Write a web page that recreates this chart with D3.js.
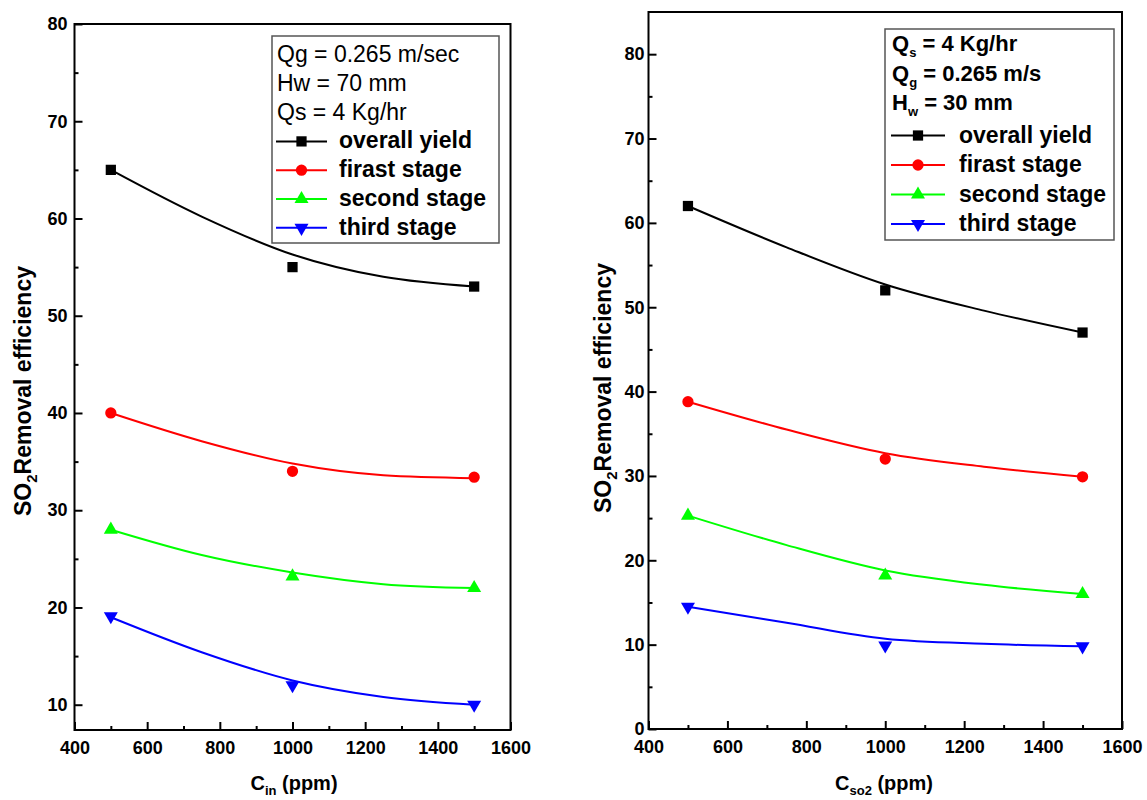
<!DOCTYPE html>
<html>
<head>
<meta charset="utf-8">
<script src="https://cdn.jsdelivr.net/npm/d3@7"></script>
<style>
  body { margin: 0; background: #fff; }
  svg { display: block; font-family: "Liberation Sans", Arial, sans-serif; }
  .tick text { font-weight: bold; font-size: 18px; fill: #000; }
  .tick line { stroke: #000; stroke-width: 2; }
</style>
</head>
<body>
<div id="chart"></div>
<script>
// measured points
const xValues = [500, 1000, 1500]
// x positions used for the fitted curves
const fitX = [500, 750, 1000, 1250, 1500]

const seriesNames = ["overall yield", "firast stage", "second stage", "third stage"]
const seriesColors = ["#000000", "#ff0000", "#00ff00", "#0000ff"]

// left panel : C_in
const leftOverall = [65, 55, 53]
const leftFirst = [40, 34, 33.4]
const leftSecond = [28, 23.2, 22]
const leftThird = [19.1, 12, 10]
const leftOverallFit = [65, 60.2, 56.3, 54.0, 53.0]
const leftFirstFit = [40, 37.1, 34.8, 33.6, 33.3]
const leftSecondFit = [28, 25.4, 23.6, 22.4, 22.0]
const leftThirdFit = [19, 15.4, 12.5, 10.8, 10.0]

// right panel : C_so2
const rightOverall = [62, 52, 47]
const rightFirst = [38.8, 32, 29.9]
const rightSecond = [25.3, 18.2, 16]
const rightThird = [14.5, 9.9, 9.8]
const rightOverallFit = [62, 57.1, 52.7, 49.6, 47.0]
const rightFirstFit = [38.8, 35.5, 32.7, 31.1, 29.9]
const rightSecondFit = [25.3, 21.8, 18.8, 17.1, 16.0]
const rightThirdFit = [14.5, 12.6, 10.7, 10.1, 9.8]

const xTicks = [400, 600, 800, 1000, 1200, 1400, 1600]
const xMinorTicks = [500, 700, 900, 1100, 1300, 1500]
const leftYTicks = [10, 20, 30, 40, 50, 60, 70, 80]
const leftYMinorTicks = [15, 25, 35, 45, 55, 65, 75]
const rightYTicks = [0, 10, 20, 30, 40, 50, 60, 70, 80]
const rightYMinorTicks = [5, 15, 25, 35, 45, 55, 65, 75]

// legend header lines: [main text, subscript, rest]
const leftParams = [["Qg = 0.265 m/sec", "", ""], ["Hw = 70 mm", "", ""], ["Qs = 4 Kg/hr", "", ""]]
const rightParams = [["Q", "s", " = 4 Kg/hr"], ["Q", "g", " = 0.265 m/s"], ["H", "w", " = 30 mm"]]

const width = 1147, height = 800

const svg = d3.select("#chart")
    .append("svg")
    .attr("width", width)
    .attr("height", height)

svg.append("rect").attr("width", width).attr("height", height).attr("fill", "#fff")

const symbols = [
    { type: d3.symbolSquare, size: 105, rotate: 0 },
    { type: d3.symbolCircle, size: 100, rotate: 0 },
    { type: d3.symbolTriangle, size: 85, rotate: 0 },
    { type: d3.symbolTriangle, size: 85, rotate: 180 }
]

function drawPanel(cfg) {
    const x = d3.scaleLinear().domain([400, 1600]).range([cfg.left, cfg.right])
    const y = d3.scaleLinear().domain(cfg.yDomain).range([cfg.bottom, cfg.top])
    const g = svg.append("g")

    // axes with inward ticks
    g.append("g")
        .attr("transform", `translate(0,${cfg.bottom})`)
        .call(d3.axisBottom(x).tickValues(xTicks).tickSizeInner(-8).tickSizeOuter(0).tickPadding(cfg.xPad).tickFormat(d3.format("d")))
        .call(a => a.select(".domain").remove())
    g.append("g")
        .attr("transform", `translate(0,${cfg.bottom})`)
        .call(d3.axisBottom(x).tickValues(xMinorTicks).tickSizeInner(-4).tickSizeOuter(0).tickFormat(""))
        .call(a => a.select(".domain").remove())
    g.append("g")
        .attr("transform", `translate(${cfg.left},0)`)
        .call(d3.axisLeft(y).tickValues(cfg.yTicks).tickSizeInner(-8).tickSizeOuter(0).tickPadding(cfg.yPad).tickFormat(d3.format("d")))
        .call(a => a.select(".domain").remove())
    g.append("g")
        .attr("transform", `translate(${cfg.left},0)`)
        .call(d3.axisLeft(y).tickValues(cfg.yMinor).tickSizeInner(-4).tickSizeOuter(0).tickFormat(""))
        .call(a => a.select(".domain").remove())

    // frame
    g.append("rect")
        .attr("x", cfg.left).attr("y", cfg.top)
        .attr("width", cfg.right - cfg.left).attr("height", cfg.bottom - cfg.top)
        .attr("fill", "none").attr("stroke", "#000").attr("stroke-width", 2)

    const line = d3.line()
        .x((d, i) => x(fitX[i]))
        .y(d => y(d))
        .curve(d3.curveMonotoneX)

    cfg.fits.forEach((fit, k) => {
        g.append("path")
            .datum(fit)
            .attr("d", line)
            .attr("fill", "none")
            .attr("stroke", seriesColors[k])
            .attr("stroke-width", 2)
    })

    cfg.series.forEach((vals, k) => {
        const s = symbols[k]
        g.selectAll(".pt" + k)
            .data(vals)
            .enter().append("path")
            .attr("class", "pt" + k)
            .attr("d", d3.symbol().type(s.type).size(s.size))
            .attr("transform", (d, i) => `translate(${x(xValues[i])},${y(d)}) rotate(${s.rotate})`)
            .attr("fill", seriesColors[k])
    })

    // y title
    const yt = g.append("text")
        .attr("transform", `translate(${cfg.yTitleX},${cfg.yTitleY}) rotate(-90)`)
        .attr("text-anchor", "middle")
        .attr("font-size", 23)
        .attr("font-weight", "bold")
    yt.append("tspan").text("SO")
    yt.append("tspan").attr("font-size", 15).attr("dy", 6).text("2")
    yt.append("tspan").attr("dy", -6).text("Removal efficiency")

    // x title
    const xt = g.append("text")
        .attr("x", cfg.xTitleX).attr("y", 790)
        .attr("text-anchor", "middle")
        .attr("font-size", 20)
        .attr("font-weight", "bold")
    xt.append("tspan").text("C")
    xt.append("tspan").attr("font-size", 13).attr("dy", 5).text(cfg.xSub)
    xt.append("tspan").attr("dy", -5).text(" (ppm)")

    // legend
    const lg = cfg.legend
    g.append("rect")
        .attr("x", lg.x).attr("y", lg.y).attr("width", lg.w).attr("height", lg.h)
        .attr("fill", "#fff").attr("stroke", "#555").attr("stroke-width", 1.5)

    cfg.params.forEach((p, i) => {
        const t = g.append("text")
            .attr("x", lg.textX0).attr("y", lg.rowY0 + i * lg.step)
            .attr("font-size", lg.bold ? 22 : 23)
            .attr("font-weight", lg.bold ? "bold" : "normal")
        t.append("tspan").text(p[0])
        if (p[1]) {
            t.append("tspan").attr("font-size", 13).attr("dy", 6).text(p[1])
            t.append("tspan").attr("dy", -6).text(p[2])
        }
    })

    seriesNames.forEach((name, k) => {
        const ry = lg.rowY0 + (k + cfg.params.length) * lg.step + lg.extra
        const cy = ry - 7
        g.append("line")
            .attr("x1", lg.lineX1).attr("x2", lg.lineX2)
            .attr("y1", cy).attr("y2", cy)
            .attr("stroke", seriesColors[k]).attr("stroke-width", 2)
        const s = symbols[k]
        g.append("path")
            .attr("d", d3.symbol().type(s.type).size(s.size))
            .attr("transform", `translate(${(lg.lineX1 + lg.lineX2) / 2},${cy}) rotate(${s.rotate})`)
            .attr("fill", seriesColors[k])
        g.append("text")
            .attr("x", lg.textX).attr("y", ry)
            .attr("font-size", 23)
            .attr("font-weight", "bold")
            .text(name)
    })
}

drawPanel({
    left: 74.5, right: 510.5, top: 24, bottom: 730,
    yDomain: [7.4, 80], yTicks: leftYTicks, yMinor: leftYMinorTicks,
    xPad: 11, yPad: 7,
    series: [leftOverall, leftFirst, leftSecond, leftThird],
    fits: [leftOverallFit, leftFirstFit, leftSecondFit, leftThirdFit],
    yTitleX: 31, yTitleY: 391, xTitleX: 294, xSub: "in",
    params: leftParams,
    legend: { x: 272, y: 36, w: 227, h: 207, textX0: 277, textX: 339, lineX1: 276, lineX2: 327, rowY0: 62, step: 28.8, extra: 0, bold: false }
})

drawPanel({
    left: 648.5, right: 1122, top: 12, bottom: 729,
    yDomain: [0, 85], yTicks: rightYTicks, yMinor: rightYMinorTicks,
    xPad: 11, yPad: 4,
    series: [rightOverall, rightFirst, rightSecond, rightThird],
    fits: [rightOverallFit, rightFirstFit, rightSecondFit, rightThirdFit],
    yTitleX: 611, yTitleY: 388, xTitleX: 884, xSub: "so2",
    params: rightParams,
    legend: { x: 885, y: 29, w: 229, h: 211, textX0: 892, textX: 959, lineX1: 891, lineX2: 945, rowY0: 51, step: 29.5, extra: 3, bold: true }
})
</script>
</body>
</html>
